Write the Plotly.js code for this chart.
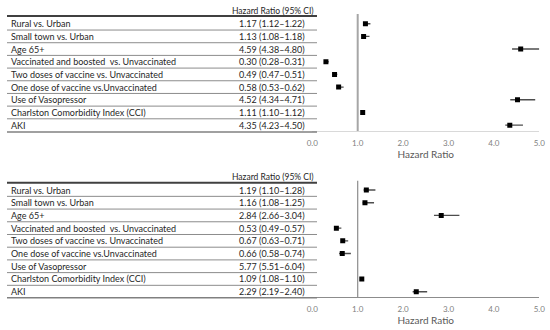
<!DOCTYPE html>
<html><head><meta charset="utf-8">
<script src="https://cdn.plot.ly/plotly-3.0.1.min.js"></script>
<style>html,body{margin:0;padding:0;background:#fff}#chart{width:550px;height:330px}</style>
</head><body><div id="chart"></div>
<script>
const categories = ["Rural vs. Urban","Small town vs. Urban","Age 65+","Vaccinated and boosted\u00a0 vs. Unvaccinated","Two doses of vaccine vs. Unvaccinated","One dose of vaccine vs.Unvaccinated","Use of Vasopressor","Charlston Comorbidity Index (CCI)","AKI"];
// top panel: hazard ratio and 95% CI (table text)
const hr1 = [1.17,1.13,4.59,0.30,0.49,0.58,4.52,1.11,4.35];
const lo1 = [1.12,1.08,4.38,0.28,0.47,0.53,4.34,1.10,4.23];
const hi1 = [1.22,1.18,4.80,0.31,0.51,0.62,4.71,1.12,4.50];
// bottom panel
const hr2 = [1.19,1.16,2.84,0.53,0.67,0.66,5.77,1.09,2.29];
const lo2 = [1.10,1.08,2.66,0.49,0.63,0.58,5.51,1.08,2.19];
const hi2 = [1.28,1.25,3.04,0.57,0.71,0.74,6.04,1.10,2.40];
// whisker ends as drawn in the plots
const barLo1 = [1.15,1.12,4.40,0.29,0.47,0.55,4.36,1.10,4.25];
const barHi1 = [1.28,1.26,5.00,0.36,0.55,0.69,4.91,1.12,4.64];
const barLo2 = [1.13,1.11,2.68,0.51,0.65,0.59,5.51,1.08,2.21];
const barHi2 = [1.39,1.36,3.24,0.64,0.79,0.85,6.04,1.10,2.53];
const headerText = "Hazard Ratio (95% CI)";
const axisTitle = "Hazard Ratio";
const xTicks = [0,1,2,3,4,5];

const W = 550, H = 330;
const px = p => p / W;
const py = p => 1 - p / H;
const FONT = "Lato, 'Open Sans', sans-serif";
const fmt = v => v.toFixed(2);

const panels = [
  {hr:hr1, lo:lo1, hi:hi1, bl:barLo1, bh:barHi1, xa:'x', ya:'y', xk:'xaxis', yk:'yaxis',
   rowTop:23.7, step:12.68, plotTop:14, plotBot:131, header:10.7, headerLine:16, tableBot:132,
   refColor:'#a6a6a6', refWidth:2, axisColor:'#d9d9d9'},
  {hr:hr2, lo:lo2, hi:hi2, bl:barLo2, bh:barHi2, xa:'x2', ya:'y2', xk:'xaxis2', yk:'yaxis2',
   rowTop:190, step:12.71, plotTop:180.7, plotBot:297.3, header:176.7, headerLine:182.7, tableBot:297.7,
   refColor:'#8c8c8c', refWidth:1.2, axisColor:'#8c8c8c'}
];

const data = [];
const shapes = [];
const annotations = [];
const layout = {
  width: W, height: H,
  margin: {l:0, r:0, t:0, b:0},
  paper_bgcolor: '#fff', plot_bgcolor: 'rgba(0,0,0,0)',
  showlegend: false,
  font: {family: FONT, color: '#262626'}
};

panels.forEach(p => {
  const idx = categories.map((_, i) => i);
  data.push({
    type: 'scatter', mode: 'markers',
    x: p.hr, y: idx, xaxis: p.xa, yaxis: p.ya,
    marker: {symbol: 'square', size: 5, color: '#000'},
    error_x: {type: 'data', symmetric: false,
      array: p.bh.map((v, i) => v - p.hr[i]),
      arrayminus: p.hr.map((v, i) => v - p.bl[i]),
      color: '#4d4d4d', thickness: 1.4, width: 0},
    hoverinfo: 'skip'
  });
  layout[p.xk] = {
    domain: [312.3 / W, 539.3 / W], range: [0, 5], anchor: p.ya,
    tickvals: xTicks, tickformat: '.1f',
    showgrid: false, zeroline: false,
    showline: true, linecolor: p.axisColor, linewidth: 1,
    ticks: 'outside', ticklen: 4, tickcolor: 'rgba(0,0,0,0)',
    tickfont: {family: FONT, size: 8, color: '#808080'},
    title: {text: axisTitle, font: {family: FONT, size: 10, color: '#595959'}, standoff: 4}
  };
  layout[p.yk] = {
    domain: [py(p.plotBot), py(p.plotTop)], anchor: p.xa,
    range: [(p.plotBot - p.rowTop) / p.step, -(p.rowTop - p.plotTop) / p.step],
    showgrid: false, zeroline: false, showline: false, showticklabels: false, ticks: ''
  };
  // reference line at HR = 1
  shapes.push({type: 'line', xref: p.xa, yref: p.ya + ' domain', x0: 1, x1: 1, y0: 0, y1: 1,
    line: {color: p.refColor, width: p.refWidth}, layer: 'below'});
  // table lines
  shapes.push({type: 'line', xref: 'paper', yref: 'paper', x0: px(7), x1: px(317),
    y0: py(p.headerLine), y1: py(p.headerLine), line: {color: '#404040', width: 2}});
  for (let i = 0; i < categories.length - 1; i++) {
    const yy = py(p.rowTop + (i + 0.5) * p.step);
    shapes.push({type: 'line', xref: 'paper', yref: 'paper', x0: px(7), x1: px(317),
      y0: yy, y1: yy, line: {color: '#8c8c8c', width: 1}});
  }
  shapes.push({type: 'line', xref: 'paper', yref: 'paper', x0: px(7), x1: px(317),
    y0: py(p.tableBot), y1: py(p.tableBot), line: {color: '#808080', width: 1.5}});
  // header
  annotations.push({xref: 'paper', yref: 'paper', x: px(272.8), y: py(p.header),
    text: headerText, showarrow: false, xanchor: 'center', yanchor: 'middle',
    font: {family: FONT, size: 8.5, color: '#262626'}});
  categories.forEach((c, i) => {
    const yy = py(p.rowTop + i * p.step);
    annotations.push({xref: 'paper', yref: 'paper', x: px(9), y: yy, text: c,
      showarrow: false, xanchor: 'left', yanchor: 'middle',
      font: {family: FONT, size: 9, color: '#262626'}});
    annotations.push({xref: 'paper', yref: 'paper', x: px(272.3), y: yy,
      text: fmt(p.hr[i]) + ' (' + fmt(p.lo[i]) + '\u2013' + fmt(p.hi[i]) + ')',
      showarrow: false, xanchor: 'center', yanchor: 'middle',
      font: {family: FONT, size: 9, color: '#262626'}});
  });
});

layout.shapes = shapes;
layout.annotations = annotations;
Plotly.newPlot('chart', data, layout, {displayModeBar: false, staticPlot: true});
</script>
</body></html>
